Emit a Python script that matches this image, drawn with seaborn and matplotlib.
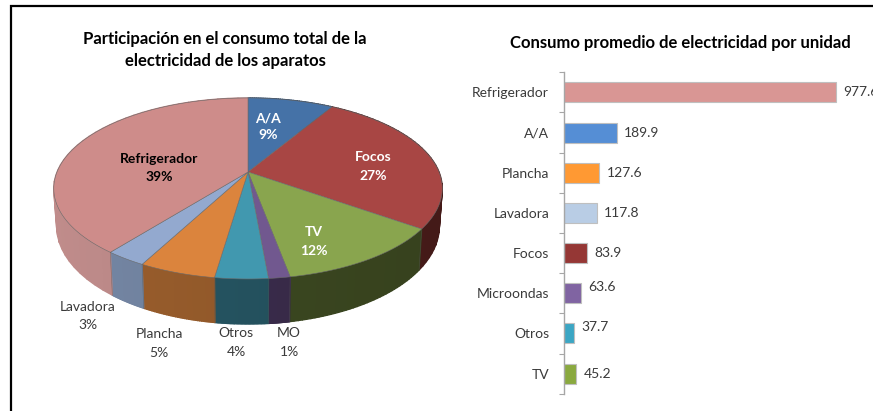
import numpy as np
import pandas as pd
import matplotlib
matplotlib.use("Agg")
import matplotlib.pyplot as plt
import seaborn as sns

# pie (clockwise from the top), shares
pie_names = ["A/A", "Focos", "TV", "MO", "Otros", "Plancha", "Lavadora", "Refrigerador"]
pie_shares = [8.5, 26.4, 12.2, 1.5, 3.7, 5.4, 2.9, 39.4]
pie_pcts = ["9%", "27%", "12%", "1%", "4%", "5%", "3%", "39%"]
pie_top = ["#4572A7", "#A84644", "#89A54E", "#71588F", "#4198AF", "#DB843D", "#93A9CF", "#CE8C8A"]
pie_wall = ["#2A4464", "#4A1C1A", "#3B4720", "#392B4A", "#24525F", "#92592A", "#6E7F9B", "#B58483"]

# bars
bar_names = ["Refrigerador", "A/A", "Plancha", "Lavadora", "Focos", "Microondas", "Otros", "TV"]
bar_values = [977.6, 189.9, 127.6, 117.8, 83.9, 63.6, 37.7, 45.2]
bar_colors = ["#D99694", "#558ED5", "#FF9933", "#B9CDE5", "#953735", "#8064A2", "#3BA6C4", "#8AA93F"]

sns.set_theme(style="white")
plt.rcParams["font.family"] = ["Lato", "DejaVu Sans"]

fig = plt.figure(figsize=(8.73, 4.11), dpi=100)

# whole figure in pixel units, for the frame and the pie
ax = fig.add_axes([0, 0, 1, 1])
ax.set_xlim(0, 873)
ax.set_ylim(411, 0)
ax.axis("off")

ax.plot([10.7, 10.7, 873], [411, 6.5, 6.5], color="black", lw=1.6, solid_joinstyle="miter")

cx, cy = 248, 172
W, H, k = 191, 87.5, 0.182


def rim(theta):
    u, v = np.sin(theta), np.cos(theta)
    d = 1 + k * v
    return cx + W * u / d, cy - H * v / d


def wall(x, y):
    return cx + (x - cx) * 0.985, y + 45 - (279 - y) * 0.08


edges = np.cumsum([0] + pie_shares) / 100 * 2 * np.pi

# side walls first, the top faces cover whatever is behind
for i in range(len(pie_shares)):
    t = np.linspace(edges[i], edges[i + 1], 41)
    x, y = rim(t)
    xb, yb = wall(x, y)
    base = np.array(matplotlib.colors.to_rgb(pie_wall[i]))
    for j in range(len(t) - 1):
        # walls get a little darker going left to right
        shade = 1.06 - 0.14 * (x[j] - 54) / 389
        c = np.clip(base * shade, 0, 1)
        ax.fill([x[j], x[j + 1], xb[j + 1], xb[j]], [y[j], y[j + 1], yb[j + 1], yb[j]],
                facecolor=c, edgecolor=c, lw=1.0)

for i in range(len(pie_shares)):
    t = np.linspace(edges[i], edges[i + 1], 80)
    x, y = rim(t)
    xb, yb = wall(x, y)
    if np.sin(edges[i]) < 0.99 and np.cos(edges[i]) < 0.3:
        ax.plot([x[0], xb[0]], [y[0], yb[0]], color="#555555", lw=0.4, alpha=0.6)
    ax.fill(np.r_[cx, x], np.r_[cy, y], facecolor=pie_top[i], edgecolor="#6a6a6a", lw=0.4)

inside = [(268, 118, 135, "white"), (373, 157, 176, "white"), (314, 232, 251, "white"),
          (159, 159, 177, "black")]
outside = [(289, 333, 352), (236, 333, 352), (159, 334, 353), (88, 307, 325)]
for i, pos in zip([0, 1, 2, 7], inside):
    ax.text(pos[0], pos[1], pie_names[i], color=pos[3], fontsize=10, fontweight="bold", ha="center", va="center")
    ax.text(pos[0], pos[2], pie_pcts[i], color=pos[3], fontsize=10, fontweight="bold", ha="center", va="center")
for i, pos in zip([3, 4, 5, 6], outside):
    ax.text(pos[0], pos[1], pie_names[i], color="#3a3a3a", fontsize=10, ha="center", va="center")
    ax.text(pos[0], pos[2], pie_pcts[i], color="#3a3a3a", fontsize=10, ha="center", va="center")

ax.text(225, 39, "Participación en el consumo total de la", fontsize=11.95, fontweight="bold",
        color="black", ha="center", va="center")
ax.text(225, 61, "electricidad de los aparatos", fontsize=11.95, fontweight="bold",
        color="black", ha="center", va="center")
ax.text(680.5, 43, "Consumo promedio de electricidad por unidad", fontsize=11.95, fontweight="bold",
        color="black", ha="center", va="center")

# bar chart
px_left, px_top, px_bottom = 563.7, 72.3, 393.7
ax2 = fig.add_axes([px_left / 873, 1 - px_bottom / 411, 1 - px_left / 873, (px_bottom - px_top) / 411])
ax2.patch.set_alpha(0)
df = pd.DataFrame({"name": bar_names, "value": bar_values})
sns.barplot(data=df, x="value", y="name", hue="name", palette=bar_colors, legend=False,
            width=0.5, saturation=1, edgecolor="#BFBFBF", linewidth=0.8, ax=ax2)
ax2.set_xlim(0, (873 - px_left) / 0.2786)
ax2.set_ylim(7.5, -0.5)
ax2.set_xlabel("")
ax2.set_ylabel("")
ax2.set_xticks([])
sns.despine(ax=ax2, top=True, right=True, bottom=True)
ax2.spines["left"].set_color("#A6A6A6")
ax2.spines["left"].set_linewidth(1)

ax2.set_yticks(np.arange(-0.5, 8, 1))
ax2.set_yticklabels([])
ax2.tick_params(axis="y", which="major", left=True, length=3.5, width=0.8, color="#A6A6A6")
ax2.set_yticks(np.arange(8), labels=bar_names, minor=True)
ax2.tick_params(axis="y", which="minor", left=False, length=0, pad=10.5, labelsize=10, labelcolor="#3a3a3a")

label_shift = [0, 0, 0, 0, 0, -0.16, -0.16, 0]
for i, v in enumerate(bar_values):
    ax2.annotate(f"{v:.1f}", (v, i + label_shift[i]), xytext=(5.2, 0), textcoords="offset points",
                 fontsize=10, color="#3a3a3a", va="center", ha="left", annotation_clip=False)

fig.savefig("out.png", dpi=100, facecolor="white")
